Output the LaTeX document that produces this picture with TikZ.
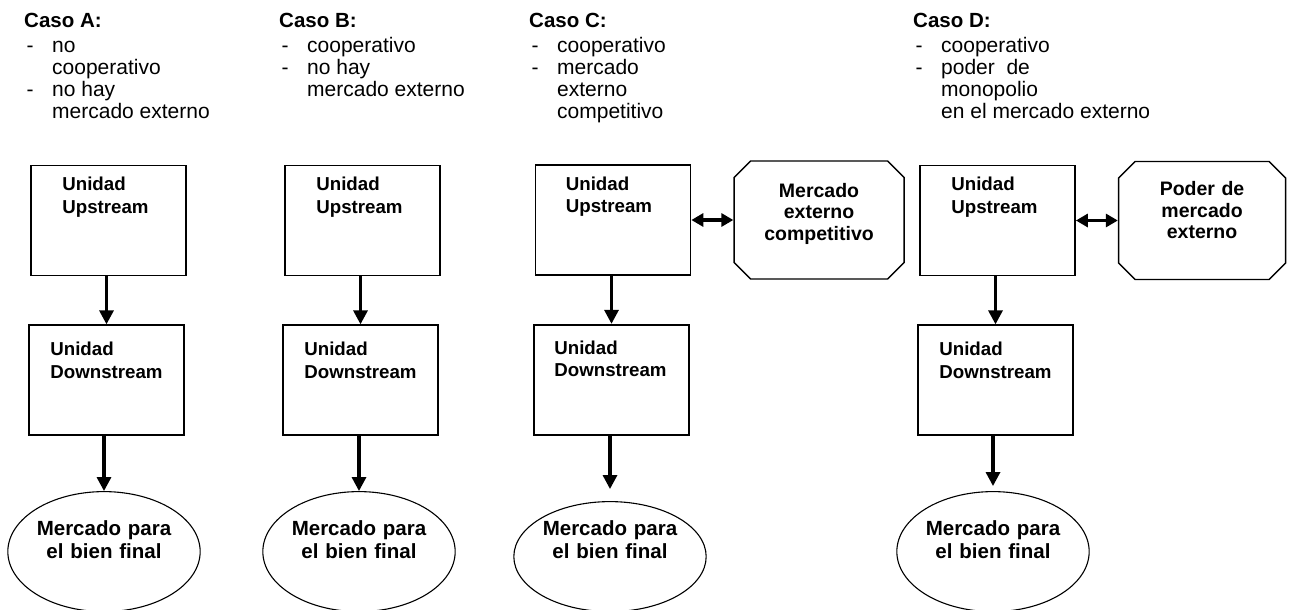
\documentclass[tikz,border=0pt]{standalone}
\usepackage{fontspec}
\setmainfont{Liberation Sans}
\usetikzlibrary{arrows.meta,positioning,shapes.geometric,shapes.misc}
\newcommand\guion{\makebox[28pt][l]{\hspace{2.5pt}-}}
\newcommand\sangria{\hspace*{28pt}}
\tikzset{
caso/.style={
  anchor=base west, inner sep=0pt,
  font=\fontsize{20.5}{24}\selectfont\bfseries
  },
lista/.style={
  align=left, inner sep=0pt,
  font=\fontsize{21}{22}\selectfont
  },
unidad/.style={
  rectangle, draw=black, line width=1.7pt,
  minimum width=155pt, minimum height=110pt
  },
rotulo/.style={
  align=left, inner sep=0pt,
  font=\fontsize{18.7}{22.5}\selectfont\bfseries
  },
externo/.style={
  chamfered rectangle, chamfered rectangle xsep=13pt,
  draw=black, line width=1.4pt,
  minimum width=#1, minimum height=118pt,
  text width=120pt, align=center, inner sep=0pt,
  text height=15pt,
  font=\fontsize{19.5}{21.5}\selectfont\bfseries
  },
final/.style={
  ellipse, draw=black, line width=1.1pt,
  minimum width=192pt, minimum height=#1,
  text width=136pt, align=center, inner sep=0pt,
  text height=15pt,
  font=\fontsize{20.5}{23}\selectfont\bfseries
  },
flujo/.style={line width=3.2pt, -{Triangle[length=14pt,width=14pt]}},
doble/.style={line width=3.5pt,
  {Triangle[length=12pt,width=13pt]}-{Triangle[length=12pt,width=13pt]}}
}

\begin{document}
\begin{tikzpicture}[x=1pt,y=-1pt]
\useasboundingbox (0,0) rectangle (1296,610);

% caso A

\node[caso] (headA) at (24,28) {Caso A:};
\node[lista, below right=9pt and 0pt of headA.base west] (listA)
{\rule{0pt}{15pt}\guion no\\
 \sangria cooperativo\\
 \guion no hay\\
 \sangria mercado externo};

\node[unidad] (upA) at (108.5,220.5) {};
\node[unidad, below=48pt of upA, xshift=-2pt] (downA) {};
\node[final=120pt, text depth=47pt, below=55pt of downA, xshift=-2.5pt] (ellA)
{Mercado para\\el bien final};

\node[rotulo, below right=12pt and 32pt of upA.north west] (tupA)
{\rule{0pt}{14pt}Unidad\\Upstream};
\node[rotulo, below right=17pt and 22pt of downA.north west] (tdownA)
{\rule{0pt}{14pt}Unidad\\Downstream};

\draw[flujo] (upA.south -| downA.north) -- (downA.north);
\draw[flujo] (downA.south -| ellA.north) -- (ellA.north);

% caso B

\node[caso] (headB) at (279,28) {Caso B:};
\node[lista, below right=9pt and 0pt of headB.base west] (listB)
{\rule{0pt}{15pt}\guion cooperativo\\
 \guion no hay\\
 \sangria mercado externo};

\node[unidad] (upB) at (362.5,220.5) {};
\node[unidad, below=48pt of upB, xshift=-2pt] (downB) {};
\node[final=120pt, text depth=47pt, below=55pt of downB, xshift=-1.5pt] (ellB)
{Mercado para\\el bien final};

\node[rotulo, below right=12pt and 32pt of upB.north west] (tupB)
{\rule{0pt}{14pt}Unidad\\Upstream};
\node[rotulo, below right=17pt and 22pt of downB.north west] (tdownB)
{\rule{0pt}{14pt}Unidad\\Downstream};

\draw[flujo] (upB.south -| downB.north) -- (downB.north);
\draw[flujo] (downB.south -| ellB.north) -- (ellB.north);

% caso C

\node[caso] (headC) at (529,28) {Caso C:};
\node[lista, below right=9pt and 0pt of headC.base west] (listC)
{\rule{0pt}{15pt}\guion cooperativo\\
 \guion mercado\\
 \sangria externo\\
 \sangria competitivo};

\node[unidad] (upC) at (613,220) {};
\node[unidad, below=48pt of upC, xshift=-1.5pt] (downC) {};
\node[final=110pt, text depth=57pt, below=65.5pt of downC, xshift=-1.5pt] (ellC)
{Mercado para\\el bien final};
\node[externo=170pt, text depth=61pt, right=42pt of upC] (octC)
{Mercado\\externo\\competitivo};

\node[rotulo, below right=12pt and 31pt of upC.north west] (tupC)
{\rule{0pt}{14pt}Unidad\\Upstream};
\node[rotulo, below right=16pt and 21pt of downC.north west] (tdownC)
{\rule{0pt}{14pt}Unidad\\Downstream};

\draw[flujo] (upC.south -| downC.north) -- (downC.north);
\draw[flujo, shorten >=12pt] (downC.south -| ellC.north) -- (ellC.north);
\draw[doble] (upC.east) -- (octC.west);

% caso D

\node[caso] (headD) at (913,28) {Caso D:};
\node[lista, below right=9pt and 0pt of headD.base west] (listD)
{\rule{0pt}{15pt}\guion cooperativo\\
 \guion poder~ de\\
 \sangria monopolio\\
 \sangria en el mercado externo};

\node[unidad] (upD) at (997.5,220.5) {};
\node[unidad, below=48pt of upD, xshift=-2pt] (downD) {};
\node[final=120pt, text depth=47pt, below=55pt of downD, xshift=-2.5pt] (ellD)
{Mercado para\\el bien final};
\node[externo=167pt, text depth=65pt, right=42pt of upD] (octD)
{Poder de\\mercado\\externo};

\node[rotulo, below right=12pt and 32pt of upD.north west] (tupD)
{\rule{0pt}{14pt}Unidad\\Upstream};
\node[rotulo, below right=17pt and 22pt of downD.north west] (tdownD)
{\rule{0pt}{14pt}Unidad\\Downstream};

\draw[flujo] (upD.south -| downD.north) -- (downD.north);
\draw[flujo, shorten >=5pt] (downD.south -| ellD.north) -- (ellD.north);
\draw[doble] (upD.east) -- (octD.west);

\end{tikzpicture}
\end{document}
